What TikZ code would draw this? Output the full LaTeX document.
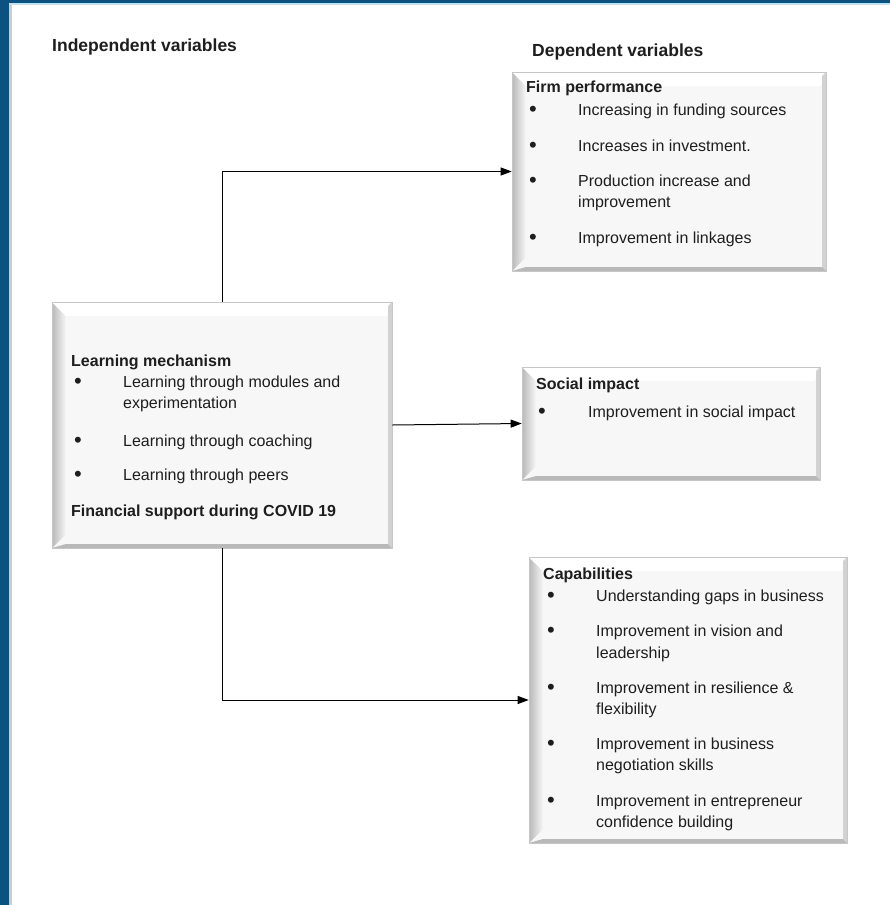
\documentclass[tikz,border=0pt]{standalone}
\usepackage{fontspec}
\setmainfont{Liberation Sans}
\usetikzlibrary{arrows.meta,backgrounds}
\definecolor{frameblue}{RGB}{12,82,128}
\definecolor{boxfill}{RGB}{247,247,247}
\definecolor{textc}{RGB}{30,30,30}
\tikzset{
  txt/.style={anchor=base west, inner sep=0pt, text=textc, font=\fontsize{16}{21}\selectfont},
  hd/.style={txt, font=\fontsize{16}{21}\selectfont\bfseries},
  bighd/.style={txt, font=\fontsize{17.5}{21}\selectfont\bfseries},
  bul/.style={txt, font=\fontsize{22}{21}\selectfont, yshift=-1pt},
  conn/.style={line width=1pt, black, -{Triangle[length=11pt,width=8pt]}},
  bevelbox/.style={rectangle, inner sep=0pt, draw=gray!45, line width=0.6pt, fill=boxfill,
    path picture={
      \path (path picture bounding box.north west) coordinate (ppnw)
            (path picture bounding box.south west) coordinate (ppsw)
            (path picture bounding box.north east) coordinate (ppne)
            (path picture bounding box.south east) coordinate (ppse);
      \shade[left color=gray!55, right color=boxfill]
        (ppnw) -- ([xshift=14pt,yshift=-14pt]ppnw) -- ([xshift=14pt,yshift=14pt]ppsw) -- (ppsw) -- cycle;
      \fill[white] (ppnw) -- ([xshift=14pt,yshift=-14pt]ppnw) -- ([xshift=-5pt,yshift=-14pt]ppne) -- (ppne) -- cycle;
      \fill[gray!35] (ppne) -- ([xshift=-4pt,yshift=-4pt]ppne) -- ([xshift=-4pt,yshift=4pt]ppse) -- (ppse) -- cycle;
      \fill[gray!55] (ppsw) -- ([xshift=14pt,yshift=4pt]ppsw) -- ([xshift=-4pt,yshift=4pt]ppse) -- (ppse) -- cycle;
    }},
}
\begin{document}
\begin{tikzpicture}[x=1pt,y=-1pt]
\useasboundingbox (0,0) rectangle (890,905);
\fill[white] (0,0) rectangle (890,905);
% frame
\fill[frameblue] (0,0) rectangle (9,905);
\fill[frameblue] (0,0) rectangle (890,3);
\fill[gray!40] (9,3) rectangle (11.5,905);
\fill[gray!30] (9,3) rectangle (890,4.5);

% headers
\node[bighd] (indep) at (52,51) {Independent variables};
\node[bighd] (dep) at (532,56) {Dependent variables};

% boxes
\node[bevelbox, minimum width=314pt, minimum height=199pt] (firm) at (669,171.5) {};
\node[bevelbox, minimum width=340pt, minimum height=246pt] (learn) at (222,425) {};
\node[bevelbox, minimum width=298pt, minimum height=113pt] (social) at (671,423.5) {};
\node[bevelbox, minimum width=318pt, minimum height=286pt] (cap) at (688,700) {};

% shadows
\begin{scope}[on background layer]
\foreach \b in {firm,learn,social,cap}{
  \fill[gray!20] ([xshift=1pt,yshift=-1pt]\b.south west) rectangle ([xshift=5pt,yshift=-5pt]\b.north east);
  \fill[gray!40] ([xshift=0.5pt,yshift=-0.5pt]\b.south west) rectangle ([xshift=2.5pt,yshift=-2.5pt]\b.north east);
}
\end{scope}

% firm performance text
\node[hd] (firmh) at (526,92.5) {Firm performance};
\node[bul] (fb1) at (529,115) {•};
\node[txt] (ft1) at (578,115) {Increasing in funding sources};
\node[bul] (fb2) at (529,151.5) {•};
\node[txt] (ft2) at (578,151.5) {Increases in investment.};
\node[bul] (fb3) at (529,186.5) {•};
\node[txt] (ft3) at (578,186.5) {Production increase and};
\node[txt] (ft3b) at (578,207) {improvement};
\node[bul] (fb4) at (529,243) {•};
\node[txt] (ft4) at (578,243) {Improvement in linkages};

% learning mechanism text
\node[hd] (learnh) at (71,366) {Learning mechanism};
\node[bul] (lb1) at (74,387.5) {•};
\node[txt] (lt1) at (123,387.5) {Learning through modules and};
\node[txt] (lt1b) at (123,408.5) {experimentation};
\node[bul] (lb2) at (74,446) {•};
\node[txt] (lt2) at (123,446) {Learning through coaching};
\node[bul] (lb3) at (74,480.5) {•};
\node[txt] (lt3) at (123,480.5) {Learning through peers};
\node[hd] (fin) at (71,516.5) {Financial support during COVID 19};

% social impact text
\node[hd] (socialh) at (536,389) {Social impact};
\node[bul] (sb1) at (538,417.5) {•};
\node[txt] (st1) at (588,417.5) {Improvement in social impact};

% capabilities text
\node[hd] (caph) at (543,579.5) {Capabilities};
\node[bul] (cb1) at (547,601.5) {•};
\node[txt] (ct1) at (596,601.5) {Understanding gaps in business};
\node[bul] (cb2) at (547,636.5) {•};
\node[txt] (ct2) at (596,636.5) {Improvement in vision and};
\node[txt] (ct2b) at (596,658) {leadership};
\node[bul] (cb3) at (547,693) {•};
\node[txt] (ct3) at (596,693) {Improvement in resilience \&};
\node[txt] (ct3b) at (596,714.5) {flexibility};
\node[bul] (cb4) at (547,749) {•};
\node[txt] (ct4) at (596,749) {Improvement in business};
\node[txt] (ct4b) at (596,770.5) {negotiation skills};
\node[bul] (cb5) at (547,806) {•};
\node[txt] (ct5) at (596,806) {Improvement in entrepreneur};
\node[txt] (ct5b) at (596,827) {confidence building};

% connectors
\draw[conn] (learn.north) |- (firm.west);
\draw[conn] (learn.east) -- (social.west);
\draw[conn] (learn.south) |- (cap.west);
\end{tikzpicture}
\end{document}
